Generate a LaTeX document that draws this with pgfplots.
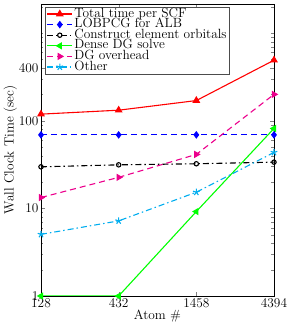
\documentclass[border=0pt]{standalone}
\usepackage{pgfplots}
\pgfplotsset{compat=1.18}
\begin{document}
\begin{tikzpicture}
\begin{axis}[
  name=ax,
  scale only axis, width=233bp, height=292bp,
  ymode=log, ymin=1, ymax=2150,
  xmin=0, xmax=3,
  xtick={0,1,2,3}, xticklabels={128,432,1458,4394},
  ytick={1,10,100,400}, yticklabels={1,10,100,400},
  minor ytick={2,3,4,5,6,7,8,9,20,30,40,50,60,70,80,90,200,300,500,600,700,800,900,1000,2000},
  tick align=inside,
  major tick length=4bp, minor tick length=2.5bp,
  tick label style={font=\fontsize{13.4}{13.4}\selectfont},
  label style={font=\fontsize{13.4}{13.4}\selectfont},
  xlabel={Atom \#}, ylabel={Wall Clock Time (sec)},
  xlabel style={yshift=5bp},
  ylabel style={yshift=-5bp},
  xticklabel style={yshift=1bp},
  yticklabel style={xshift=1bp},
  clip mode=individual,
  legend cell align=left,
  legend style={at={(0.017,0.99)}, anchor=north west, font=\fontsize{13.4}{11}\selectfont,
    draw=black!70, line width=0.6pt, inner sep=1.5pt, row sep=0bp,
    nodes={inner xsep=1.5bp, inner ysep=0.3bp, text height=8bp, text depth=2bp}},
  legend image code/.code={\draw[mark repeat=2,mark phase=2] plot coordinates {(0bp,0bp) (12.5bp,0bp) (25bp,0bp)};},
  every axis plot/.append style={line width=1.1pt},
]
\addplot[red, solid, mark=triangle*, mark size=3.5pt, mark options={solid}] coordinates {(0,119) (1,132) (2,170) (3,491)};
\addlegendentry{Total time per SCF}
\addplot[blue, dash pattern=on 6bp off 4bp, mark=diamond*, mark size=3pt, mark options={solid}] coordinates {(0,69) (1,69) (2,69) (3,69)};
\addlegendentry{LOBPCG for ALB}
\addplot[black, dash pattern=on 6bp off 3bp on 1.5bp off 3bp, mark=o, mark size=2.2pt, mark options={solid}] coordinates {(0,29.8) (1,31.4) (2,32.3) (3,33.7)};
\addlegendentry{Construct element orbitals}
\addplot[green, solid, mark=triangle*, mark size=3.2pt, mark options={solid, rotate=90}] coordinates {(0,1) (1,1) (2,9.2) (3,81.7)};
\addlegendentry{Dense DG solve}
\addplot[magenta, dash pattern=on 6bp off 4bp, mark=triangle*, mark size=3.2pt, mark options={solid, rotate=-90}] coordinates {(0,13.3) (1,22.6) (2,41.3) (3,200)};
\addlegendentry{DG overhead}
\addplot[cyan, dash pattern=on 6bp off 3bp on 1.5bp off 3bp, mark=star, mark size=3.5pt, mark options={solid}] coordinates {(0,5.05) (1,7.2) (2,15.3) (3,43.5)};
\addlegendentry{Other}
\end{axis}
\pgfresetboundingbox
\path ([shift={(-41bp,-32bp)}]ax.south west) rectangle ([shift={(17bp,4bp)}]ax.north east);
\end{tikzpicture}
\end{document}
